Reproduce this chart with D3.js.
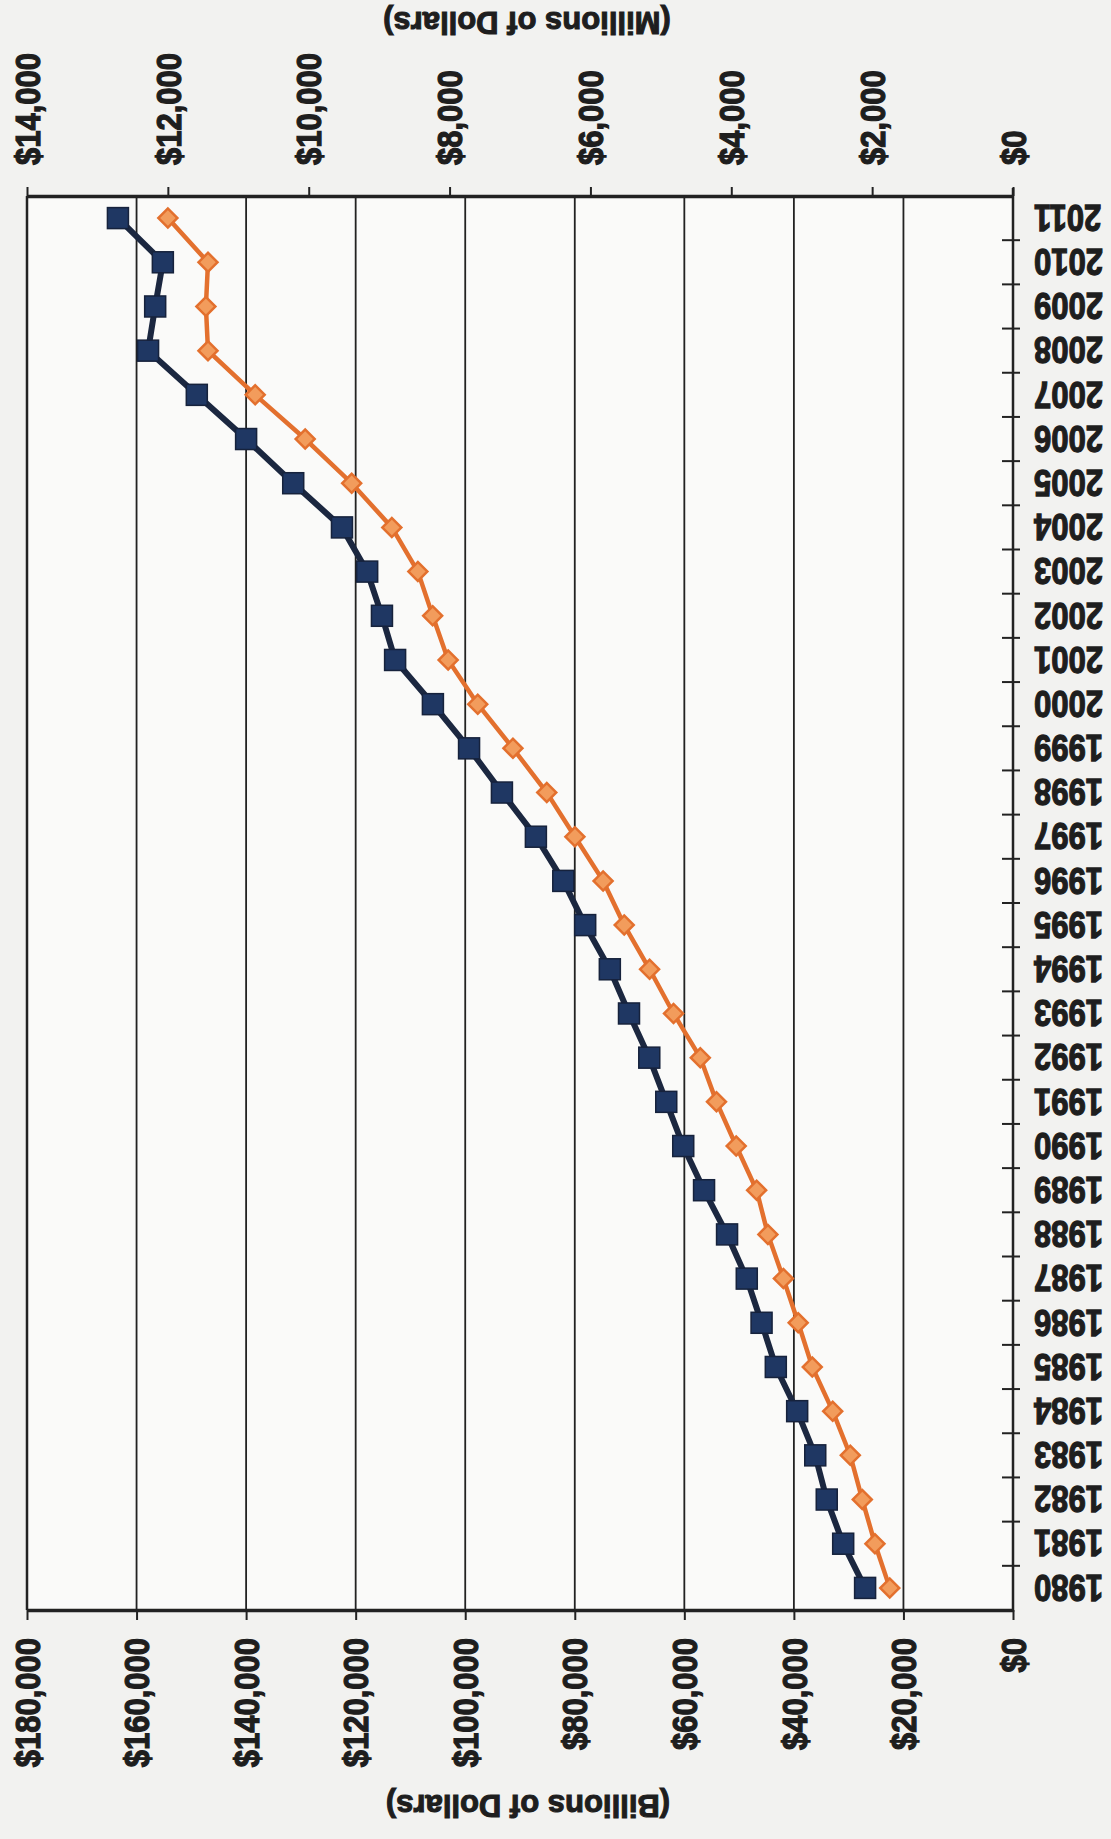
<!DOCTYPE html>
<html>
<head>
<meta charset="utf-8">
<script src="https://cdn.jsdelivr.net/npm/d3@7"></script>
<style>
  body { margin: 0; background: #f2f2f0; }
  text { font-family: "Liberation Sans", Arial, sans-serif; font-weight: bold; fill: #1e1e1e;
         stroke: #1e1e1e; stroke-width: 1.1px; }
</style>
</head>
<body>
<div id="chart"></div>
<script>
let years = [1980, 1981, 1982, 1983, 1984, 1985, 1986, 1987, 1988, 1989, 1990,
    1991, 1992, 1993, 1994, 1995, 1996, 1997, 1998, 1999, 2000,
    2001, 2002, 2003, 2004, 2005, 2006, 2007, 2008, 2009, 2010, 2011];
// billions of dollars (blue squares, bottom axis)
let billions = [27000, 31000, 34000, 36100, 39400, 43300, 45900, 48600, 52200, 56400, 60200,
    63300, 66400, 70100, 73600, 78100, 82100, 87100, 93300, 99300, 105900,
    112800, 115200, 117900, 122500, 131400, 140000, 149000, 157900, 156600, 155200, 163400];
// millions of dollars (orange diamonds, top axis)
let millions = [1750, 1960, 2140, 2310, 2560, 2850, 3050, 3260, 3480, 3640, 3930,
    4210, 4440, 4820, 5160, 5520, 5820, 6220, 6620, 7100, 7600,
    8020, 8240, 8450, 8820, 9390, 10050, 10760, 11430, 11460, 11430, 12000];
let billionTicks = [0, 20000, 40000, 60000, 80000, 100000, 120000, 140000, 160000, 180000];
let millionTicks = [0, 2000, 4000, 6000, 8000, 10000, 12000, 14000];

let config_size = {
    svg_width: 1111,
    svg_height: 1839,
    plot: { left: 27, right: 1013, top: 196, bottom: 1610 },
};
let p = config_size.plot;

let svg = d3.select("#chart").append("svg")
    .attr("width", config_size.svg_width).attr("height", config_size.svg_height);

svg.append("rect").attr("x", p.left).attr("y", p.top)
    .attr("width", p.right - p.left).attr("height", p.bottom - p.top)
    .attr("fill", "#fafaf9");

let xB = d3.scaleLinear().domain([0, 180000]).range([p.right, p.left]);
let xM = d3.scaleLinear().domain([0, 14000]).range([p.right, p.left]);
let y = d3.scaleBand().domain(years).range([p.bottom, p.top]);
let bw = y.bandwidth();
let yc = d => y(d) + bw / 2;

let money = d => "$" + d3.format(",")(d);

// vertical grid lines (billions axis)
svg.append("g").selectAll("line")
    .data(billionTicks.filter(d => d > 0))
    .join("line")
    .attr("x1", d => xB(d)).attr("x2", d => xB(d))
    .attr("y1", p.top).attr("y2", p.bottom)
    .attr("stroke", "#222").attr("stroke-width", d => d === 180000 ? 2.5 : 1.8);

// bottom axis: billions
let axB = svg.append("g")
    .attr("transform", `translate(0,${p.bottom})`)
    .call(d3.axisBottom(xB).tickValues(billionTicks).tickSize(10).tickSizeOuter(0).tickFormat(money));
axB.select(".domain").attr("stroke", "#222").attr("stroke-width", 3.5);
axB.selectAll(".tick line").attr("stroke", "#222").attr("stroke-width", 2);
axB.selectAll("text")
    .attr("transform", "rotate(-90) scale(1,1.12)")
    .attr("x", -28).attr("y", 0).attr("dy", "0.35em")
    .attr("text-anchor", "end")
    .style("font-size", "31px").attr("fill", "#1e1e1e");

// top axis: millions
let axM = svg.append("g")
    .attr("transform", `translate(0,${p.top})`)
    .call(d3.axisTop(xM).tickValues(millionTicks).tickSize(9).tickSizeOuter(0).tickFormat(money));
axM.select(".domain").attr("stroke", "#222").attr("stroke-width", 3.5);
axM.selectAll(".tick line").attr("stroke", "#222").attr("stroke-width", 2);
axM.selectAll("text")
    .attr("transform", "rotate(-90) scale(1,1.12)")
    .attr("x", 31).attr("y", 0).attr("dy", "0.35em")
    .attr("text-anchor", "start")
    .style("font-size", "31px").attr("fill", "#1e1e1e");

// year axis on the right, ticks at band edges
svg.append("line")
    .attr("x1", p.right).attr("x2", p.right)
    .attr("y1", p.top - 8).attr("y2", p.bottom + 2)
    .attr("stroke", "#222").attr("stroke-width", 2.5);
svg.append("g").selectAll("line")
    .data(years.slice(0, -1))
    .join("line")
    .attr("x1", p.right - 11).attr("x2", p.right + 7)
    .attr("y1", d => y(d)).attr("y2", d => y(d))
    .attr("stroke", "#222").attr("stroke-width", 2);
svg.append("g").selectAll("text")
    .data(years)
    .join("text")
    .attr("transform", d => `translate(${p.right + 21},${yc(d)}) rotate(180) scale(1,1.22)`)
    .attr("dy", "0.35em")
    .attr("text-anchor", "end")
    .style("font-size", "31px")
    .text(d => d);

// axis titles (upside down, as in the scan)
svg.append("text")
    .attr("transform", `translate(528,1795) rotate(180)`)
    .attr("text-anchor", "middle")
    .style("font-size", "31px")
    .text("(Billions of Dollars)");
svg.append("text")
    .attr("transform", `translate(527,12) rotate(180)`)
    .attr("text-anchor", "middle")
    .style("font-size", "31px")
    .text("(Millions of Dollars)");

// orange series: millions
let mData = years.map((yr, i) => ({ yr, v: millions[i] }));
svg.append("path")
    .datum(mData)
    .attr("fill", "none")
    .attr("stroke", "#e3702e")
    .attr("stroke-width", 4.5)
    .attr("d", d3.line().x(d => xM(d.v)).y(d => yc(d.yr)));
svg.append("g").selectAll("path")
    .data(mData)
    .join("path")
    .attr("transform", d => `translate(${xM(d.v)},${yc(d.yr)}) rotate(45)`)
    .attr("d", d3.symbol(d3.symbolSquare, 180))
    .attr("fill", "#f29c5c").attr("stroke", "#e3702e").attr("stroke-width", 2.5);

// blue series: billions
let bData = years.map((yr, i) => ({ yr, v: billions[i] }));
svg.append("path")
    .datum(bData)
    .attr("fill", "none")
    .attr("stroke", "#1b2740")
    .attr("stroke-width", 6)
    .attr("d", d3.line().x(d => xB(d.v)).y(d => yc(d.yr)));
svg.append("g").selectAll("rect")
    .data(bData)
    .join("rect")
    .attr("x", d => xB(d.v) - 10.5).attr("y", d => yc(d.yr) - 10.5)
    .attr("width", 21).attr("height", 21)
    .attr("fill", "#1f3763").attr("stroke", "#16223c").attr("stroke-width", 1.5);
</script>
</body>
</html>
